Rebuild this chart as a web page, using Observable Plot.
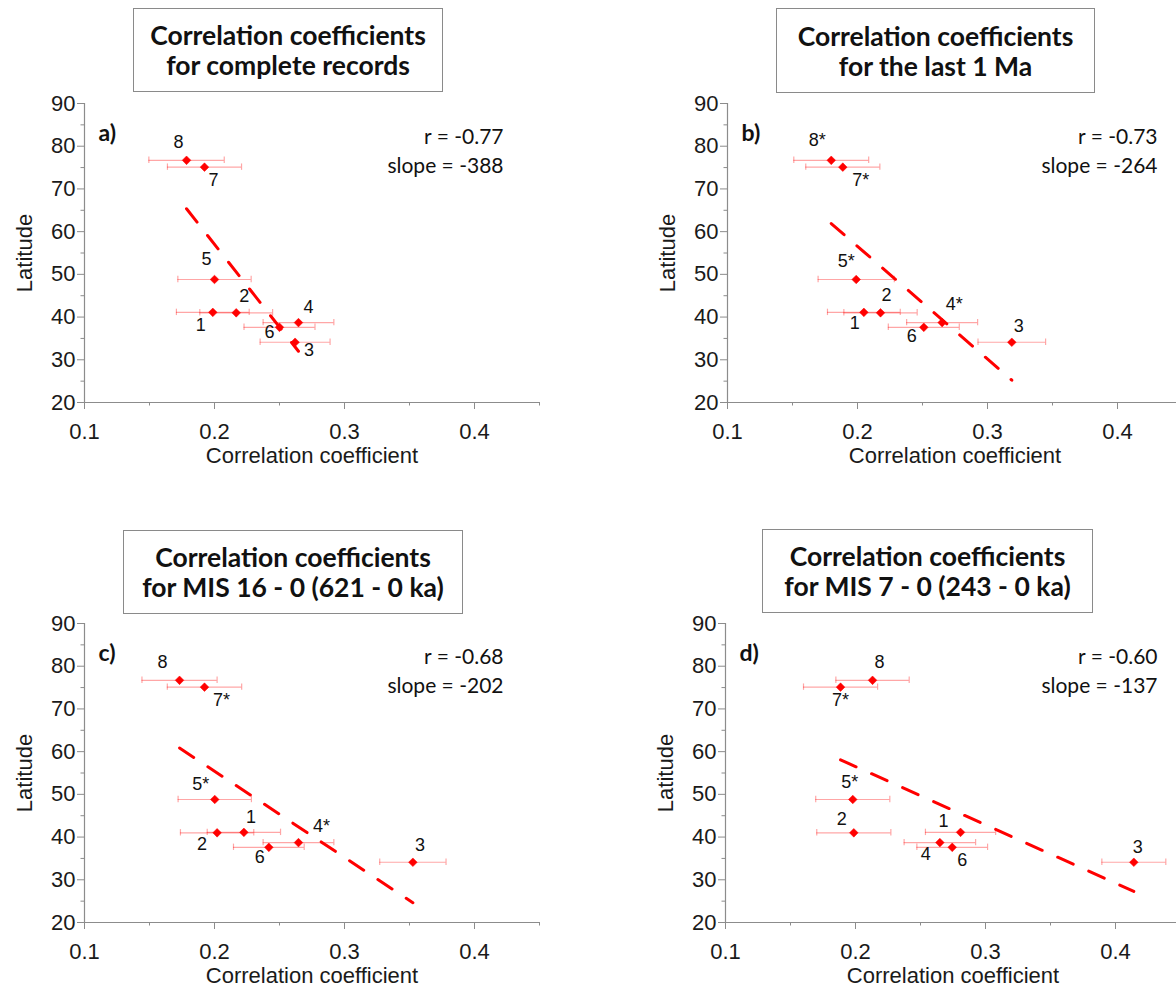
<!DOCTYPE html>
<html>
<head>
<meta charset="utf-8">
<script src="https://cdn.jsdelivr.net/npm/d3@7"></script>
<script src="https://cdn.jsdelivr.net/npm/@observablehq/plot@0.6"></script>
<style>
  html, body { margin: 0; padding: 0; background: #fff; overflow: hidden; }
  #fig { position: relative; width: 1176px; height: 989px; overflow: hidden; background: #fff; }
  .panel { position: absolute; }
  .tbox { position: absolute; border: 1px solid #8a8a8a; background: #fff; display: flex; flex-direction: column; align-items: center; justify-content: center;
          font-family: Lato, "Open Sans", sans-serif; font-weight: bold; font-size: 26.5px; line-height: 1.12; color: #111; box-sizing: border-box; padding-top: 2px; }
</style>
</head>
<body>
<div id="fig"></div>
<script>
// ---------------- data ----------------
const sites = [1, 2, 3, 4, 5, 6, 7, 8];
const latitude = [41.1, 41.0, 34.1, 38.7, 48.8, 37.6, 75.1, 76.7];

const corrA = [0.1987, 0.2167, 0.2620, 0.2646, 0.2000, 0.2500, 0.1923, 0.1785];
const errA  = [0.0280, 0.0280, 0.0269, 0.0272, 0.0282, 0.0273, 0.0285, 0.0290];
const labelsA = ["1", "2", "3", "4", "5", "6", "7", "8"];

const corrB = [0.2049, 0.2177, 0.3187, 0.2651, 0.1990, 0.2510, 0.1887, 0.1798];
const errB  = [0.0280, 0.0282, 0.0260, 0.0273, 0.0293, 0.0273, 0.0285, 0.0288];
const labelsB = ["1", "2", "3", "4*", "5*", "6", "7*", "8*"];

const corrC = [0.2226, 0.2020, 0.3526, 0.2646, 0.2002, 0.2418, 0.1923, 0.1731];
const errC  = [0.0282, 0.0282, 0.0255, 0.0272, 0.0282, 0.0272, 0.0286, 0.0289];
const labelsC = ["1", "2", "3", "4*", "5*", "6", "7*", "8"];

const corrD = [0.2808, 0.1987, 0.4141, 0.2649, 0.1979, 0.2744, 0.1885, 0.2131];
const errD  = [0.0270, 0.0285, 0.0246, 0.0275, 0.0285, 0.0272, 0.0285, 0.0282];
const labelsD = ["1", "2", "3", "4", "5*", "6", "7*", "8"];

const rTexts = ["r = -0.77", "r = -0.73", "r = -0.68", "r = -0.60"];
const slopeTexts = ["slope = -388", "slope = -264", "slope = -202", "slope = -137"];
const panelLetters = ["a)", "b)", "c)", "d)"];
const titleLines = [
  ["Correlation coefficients", "for complete records"],
  ["Correlation coefficients", "for the last 1 Ma"],
  ["Correlation coefficients", "for MIS 16 - 0 (621 - 0 ka)"],
  ["Correlation coefficients", "for MIS 7 - 0 (243 - 0 ka)"]
];
const xLabel = "Correlation coefficient";
const yLabel = "Latitude";
const xMajorTicks = [0.1, 0.2, 0.3, 0.4];
const xMinorTicks = [0.15, 0.25, 0.35, 0.45];
const yMajorTicks = [20, 30, 40, 50, 60, 70, 80, 90];
const yMinorTicks = [25, 35, 45, 55, 65, 75, 85];

// ---------------- layout (label offsets in px, panel placement) ----------------
const labelOffsetsA = [[-12, 13], [8, -17], [14, 8], [10, -15], [-8, -20], [-10, 5], [9, 13], [-8, -18]];
const labelOffsetsB = [[-9, 11], [6, -18], [7, -16], [12, -18], [-10, -18], [-12, 9], [18, 13], [-14, -20]];
const labelOffsetsC = [[7, -15], [-15, 11], [7, -17], [23, -16], [-14, -15], [-9, 10], [17, 13], [-17, -18]];
const labelOffsetsD = [[-17, -11], [-12, -14], [4, -15], [-14, 12], [-3, -17], [10, 13], [0, 13], [7, -18]];

const panels = [
  {corr: corrA, err: errA, labels: labelsA, offs: labelOffsetsA, left: 0,   top: 0,   rdx: -36, box: [133, 8, 310, 84]},
  {corr: corrB, err: errB, labels: labelsB, offs: labelOffsetsB, left: 643, top: 0,   rdx: -25, box: [776, 8, 319, 85]},
  {corr: corrC, err: errC, labels: labelsC, offs: labelOffsetsC, left: 0,   top: 520, rdx: -36, box: [123, 530, 340, 84]},
  {corr: corrD, err: errD, labels: labelsD, offs: labelOffsetsD, left: 641, top: 520, rdx: -23, box: [762, 529, 331, 84]}
];

const RED = "#ff0000";
const AXIS = "#8c8c8c";
const fig = document.getElementById("fig");

function fit(xs, ys) {
  const mx = d3.mean(xs), my = d3.mean(ys);
  let sxy = 0, sxx = 0;
  for (let i = 0; i < xs.length; i++) { sxy += (xs[i] - mx) * (ys[i] - my); sxx += (xs[i] - mx) ** 2; }
  const m = sxy / sxx, b = my - m * mx;
  const x0 = d3.min(xs), x1 = d3.max(xs);
  return [{x: x0, y: b + m * x0}, {x: x1, y: b + m * x1}];
}

panels.forEach((p, k) => {
  const rows = sites.map((s, i) => ({site: s, x: p.corr[i], lo: p.corr[i] - p.err[i], hi: p.corr[i] + p.err[i], y: latitude[i], label: p.labels[i]}));
  const line = fit(p.corr, latitude);

  const labelMarks = rows.map((r, i) => Plot.text([r], {
    x: "x", y: "y", text: "label", dx: p.offs[i][0], dy: p.offs[i][1],
    fontSize: 18, fill: "#111", fontFamily: "Liberation Sans, Arial, sans-serif"
  }));

  const chart = Plot.plot({
    width: 588, height: 490,
    marginLeft: 84, marginRight: 49, marginTop: 103, marginBottom: 88,
    style: {fontFamily: "Liberation Sans, Arial, sans-serif", fontSize: "22px", color: "#1a1a1a", background: "transparent", overflow: "visible"},
    x: {domain: [0.1, 0.45]},
    y: {domain: [20, 90]},
    marks: [
      // axes
      Plot.axisX({ticks: xMinorTicks, tickSize: 3.5, tickFormat: () => "", stroke: AXIS, label: null}),
      Plot.axisX({ticks: xMajorTicks, tickSize: 7, tickPadding: 14, tickFormat: d3.format(".1f"), stroke: AXIS,
                  label: xLabel, labelAnchor: "center", labelArrow: "none", labelOffset: 60}),
      Plot.axisY({ticks: yMinorTicks, tickSize: 3.5, tickFormat: () => "", stroke: AXIS, label: null}),
      Plot.axisY({ticks: yMajorTicks, tickSize: 7, tickPadding: 2, stroke: AXIS,
                  label: yLabel, labelAnchor: "center", labelArrow: "none", labelOffset: 68}),
      Plot.ruleY([20], {stroke: AXIS, strokeWidth: 1.2}),
      Plot.ruleX([0.1], {stroke: AXIS, strokeWidth: 1.2}),
      // regression
      Plot.line(line, {x: "x", y: "y", stroke: RED, strokeWidth: 3, strokeDasharray: "17,17"}),
      // error bars
      Plot.ruleY(rows, {x1: "lo", x2: "hi", y: "y", stroke: RED, strokeOpacity: 0.35, strokeWidth: 1.2}),
      Plot.ruleX(rows, {x: "lo", y1: d => d.y - 0.75, y2: d => d.y + 0.75, stroke: RED, strokeOpacity: 0.35, strokeWidth: 1.2}),
      Plot.ruleX(rows, {x: "hi", y1: d => d.y - 0.75, y2: d => d.y + 0.75, stroke: RED, strokeOpacity: 0.35, strokeWidth: 1.2}),
      // points
      Plot.dot(rows, {x: "x", y: "y", symbol: "diamond2", r: 3.9, fill: RED, stroke: RED, strokeWidth: 0.5}),
      ...labelMarks,
      // r / slope
      Plot.text([rTexts[k]], {frameAnchor: "top-right", text: d => d, dx: p.rdx, dy: 26, textAnchor: "end",
                              fontFamily: "Lato, 'Open Sans', sans-serif", fontSize: 21, fill: "#111"}),
      Plot.text([slopeTexts[k]], {frameAnchor: "top-right", text: d => d, dx: p.rdx, dy: 55, textAnchor: "end",
                              fontFamily: "Lato, 'Open Sans', sans-serif", fontSize: 21, fill: "#111"}),
      // panel letter
      Plot.text([panelLetters[k]], {frameAnchor: "top-left", text: d => d, dx: 14, dy: 21, textAnchor: "start",
                              fontFamily: "Lato, 'Open Sans', sans-serif", fontWeight: "bold", fontSize: 23, fill: "#111"})
    ]
  });
  chart.classList.add("panel");
  chart.style.left = p.left + "px";
  chart.style.top = p.top + "px";
  fig.appendChild(chart);

  const box = document.createElement("div");
  box.className = "tbox";
  box.style.left = p.box[0] + "px";
  box.style.top = p.box[1] + "px";
  box.style.width = p.box[2] + "px";
  box.style.height = p.box[3] + "px";
  titleLines[k].forEach(t => { const d = document.createElement("div"); d.textContent = t; box.appendChild(d); });
  fig.appendChild(box);
});
</script>
</body>
</html>
